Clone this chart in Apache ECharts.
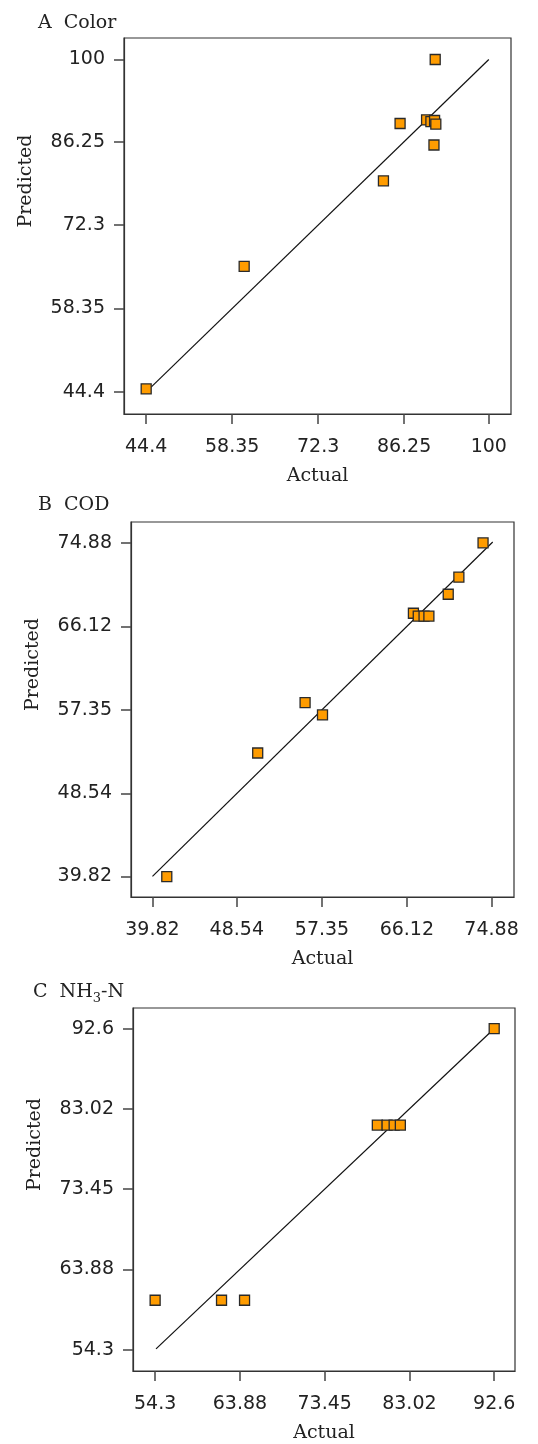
<!DOCTYPE html>
<html>
<head>
<meta charset="utf-8">
<script src="https://cdn.jsdelivr.net/npm/echarts@6/dist/echarts.min.js"></script>
<style>
html,body{margin:0;padding:0;background:#fff;}
#chart{width:538px;height:1444px;}
</style>
</head>
<body>
<div id="chart"></div>
<script>
// ---- Panel A: Color ----
const colorTicks = ['44.4', '58.35', '72.3', '86.25', '100'];
const colorActual    = [44.4, 60.3, 82.9, 85.6, 91.3, 91.1, 89.9, 90.6, 91.2, 91.4];
const colorPredicted = [44.9, 65.4, 79.7, 89.3, 100, 85.7, 89.9, 89.6, 89.8, 89.2];
const colorFit = [45.2, 100];

// ---- Panel B: COD ----
const codTicks = ['39.82', '48.54', '57.35', '66.12', '74.88'];
const codActual    = [41.3, 50.7, 55.6, 57.4, 66.8, 67.3, 67.9, 68.4, 70.4, 71.5, 74.0];
const codPredicted = [39.8, 52.8, 58.1, 56.8, 67.5, 67.2, 67.2, 67.2, 69.5, 71.3, 74.9];
const codFit = [39.82, 75.0];

// ---- Panel C: NH3-N ----
const nhTicks = ['54.3', '63.88', '73.45', '83.02', '92.6'];
const nhActual    = [54.3, 61.8, 64.4, 79.4, 80.5, 81.3, 82.0, 92.6];
const nhPredicted = [60.2, 60.2, 60.2, 81.1, 81.1, 81.1, 81.1, 92.6];
const nhFit = [54.4, 92.4];

const SERIF = "'DejaVu Serif', 'Liberation Serif', serif";
const SANS = "'DejaVu Sans', Verdana, sans-serif";
const INK = '#222';

function pairs(xs, ys) { return xs.map((x, i) => [x, ys[i]]); }

function axis(kind, idx, ticks, min, max) {
  const vals = ticks.map(Number);
  const a = {
    type: 'value', gridIndex: idx, min: min, max: max,
    splitLine: { show: false },
    axisLine: { show: true, onZero: false, lineStyle: { color: '#333', width: 1.2 } },
    axisTick: { show: true, inside: false, length: 10, customValues: vals, lineStyle: { color: '#444', width: 1.5 } },
    axisLabel: {
      customValues: vals,
      formatter: v => { const i = vals.findIndex(t => Math.abs(t - v) < 1e-6); return i >= 0 ? ticks[i] : ''; },
      fontFamily: SANS, fontSize: 19, color: INK, margin: kind === 'x' ? 24 : 19
    },
    nameTextStyle: { fontFamily: SERIF, fontSize: 19, color: INK }
  };
  if (kind === 'x') {
    a.name = 'Actual'; a.nameLocation = 'middle'; a.nameGap = 53;
  } else {
    a.name = 'Predicted'; a.nameLocation = 'middle'; a.nameGap = 88;
    a.nameTextStyle.padding = [0, 0, 0, 90];
  }
  return a;
}

function scatter(idx, xs, ys) {
  return {
    type: 'scatter', xAxisIndex: idx, yAxisIndex: idx,
    symbol: 'rect', symbolSize: 10,
    itemStyle: { color: '#FF9C00', borderColor: '#2a2a2a', borderWidth: 1.3, opacity: 1 },
    data: pairs(xs, ys), z: 3
  };
}
function fit(idx, ends) {
  return {
    type: 'line', xAxisIndex: idx, yAxisIndex: idx, symbol: 'none',
    lineStyle: { color: '#111', width: 1.2 }, silent: true,
    data: ends.map(v => [v, v]), z: 2
  };
}

const chart = echarts.init(document.getElementById('chart'), null, { renderer: 'canvas' });
chart.setOption({
  backgroundColor: '#fff',
  animation: false,
  title: [
    { text: 'A  Color', left: 33, top: 9, textStyle: { fontFamily: SERIF, fontSize: 19, fontWeight: 'normal', color: INK } },
    { text: 'B  COD', left: 33, top: 491, textStyle: { fontFamily: SERIF, fontSize: 19, fontWeight: 'normal', color: INK } },
    { text: 'C  NH{sub|3}-N', left: 28, top: 975,
      textStyle: { fontFamily: SERIF, fontSize: 19, fontWeight: 'normal', color: INK,
        rich: { sub: { fontFamily: SERIF, fontSize: 13, color: INK, padding: [12, 0, 0, 0] } } } }
  ],
  grid: [
    { left: 124, top: 38, width: 387, height: 376, show: true, borderColor: '#333', borderWidth: 1.2 },
    { left: 131, top: 522, width: 383, height: 375, show: true, borderColor: '#333', borderWidth: 1.2 },
    { left: 133, top: 1008, width: 382, height: 369, show: true, borderColor: '#333', borderWidth: 1.2 }
  ],
  xAxis: [
    axis('x', 0, colorTicks, 40.8, 103.6),
    axis('x', 1, codTicks, 37.6, 77.2),
    axis('x', 2, nhTicks, 51.8, 94.95)
  ],
  yAxis: [
    axis('y', 0, colorTicks, 40.7, 103.6),
    axis('y', 1, codTicks, 37.65, 77.1),
    axis('y', 2, nhTicks, 51.76, 95.06)
  ],
  series: [
    fit(0, colorFit), scatter(0, colorActual, colorPredicted),
    fit(1, codFit), scatter(1, codActual, codPredicted),
    fit(2, nhFit), scatter(2, nhActual, nhPredicted)
  ]
});
</script>
</body>
</html>
